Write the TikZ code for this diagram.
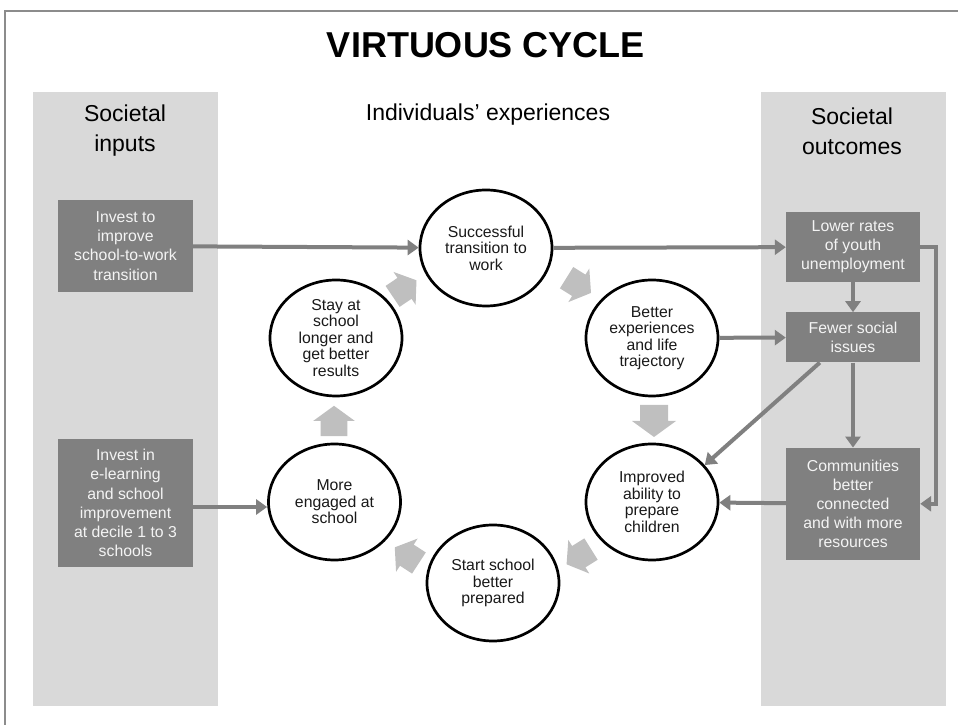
\documentclass[tikz,border=0pt]{standalone}
\usepackage{fontspec}
\setmainfont{Liberation Sans}
\usetikzlibrary{calc}
\usetikzlibrary{positioning}
\usetikzlibrary{shapes.geometric}
\usetikzlibrary{arrows.meta}
\definecolor{panelgray}{HTML}{D9D9D9}
\definecolor{boxgray}{HTML}{808080}
\definecolor{cyclegray}{HTML}{BFBFBF}
\definecolor{framegray}{HTML}{8C8C8C}
\definecolor{boxtext}{HTML}{F4F4F4}

\begin{document}
\begin{tikzpicture}[x=1pt, y=1pt,
	stage/.style={draw, ellipse, line width=2.7pt, minimum width=132pt, minimum height=116pt, inner sep=0pt, align=center, font=\fontsize{15.8}{16.5}\selectfont, text=black!90},
	invest/.style={fill=boxgray, text=boxtext, minimum width=135pt, inner sep=0pt, align=center, font=\fontsize{15.8}{19.2}\selectfont},
	outcome/.style={invest, minimum width=134pt},
	heading/.style={align=center, font=\fontsize{23}{30}\selectfont},
	link/.style={draw=boxgray, line width=4pt, -{Triangle[length=11pt, width=15pt]}}]
	\useasboundingbox (0,0) rectangle (958,725);
	\draw[framegray, line width=2.5pt] (5,0) -- (5,714) -- (958,714);
	\fill[panelgray] (33,19) rectangle (218,633);
	\fill[panelgray] (761,19) rectangle (946,633);
	\node[font=\fontsize{36}{40}\selectfont\bfseries] (title) at (486,680) {VIRTUOUS CYCLE};
	\node[heading] (inputs) at (125,594) {Societal\\inputs};
	\node[heading] (outputs) at (852,594) {Societal\\outcomes};
	\node[heading] (indiv) at (488,610) {Individuals’ experiences};
	\node[invest, minimum height=92pt] (invest1) at (125.5,479) {Invest to\\improve\\school-to-work\\transition};
	\node[invest, minimum height=128pt] (invest2) at (125.5,222) {Invest in\\e-learning\\and school\\improvement\\at decile 1 to 3\\schools};
	\node[stage] (success) at (486,477) {Successful\\transition to\\work};
	\node[stage] (better) at (652,387) {Better\\experiences\\and life\\trajectory};
	\node[stage] (improved) at (652,223) {Improved\\ability to\\prepare\\children};
	\node[stage] (start) at (493,142) {Start school\\better\\prepared};
	\node[stage] (engaged) at (334.5,223) {More\\engaged at\\school};
	\node[stage] (stay) at (336,387) {Stay at\\school\\longer and\\get better\\results};
	\node[outcome, minimum height=70pt] (lower) at (853,478) {Lower rates\\of youth\\unemployment};
	\node[outcome, minimum height=50pt, below=30pt of lower] (fewer) {Fewer social\\issues};
	\node[outcome, minimum height=112pt, below=85pt of fewer] (comm) {Communities\\better\\connected\\and with more\\resources};
	\coordinate (hub) at (494,304);
	\foreach \ang/\sc in {0/1, 58/0.9, 124/0.9, 180/0.95, 237/0.9, 302/0.9}
		\fill[cyclegray, shift={($(hub)+(\ang:160)$)}, rotate=\ang-90, scale=\sc] (-16,-14) -- (0,-14) -- (0,-22) -- (16,0) -- (0,22) -- (0,14) -- (-16,14) -- cycle;
	\draw[link] (invest1) -- (success);
	\draw[link] (invest2.east) ++(0,-4) coordinate (in2) -- (in2 -| engaged.west);
	\draw[link] (success) -- (lower);
	\draw[link] (better) -- (fewer);
	\draw[link] (lower) -- (fewer);
	\draw[link] (fewer) -- (comm);
	\draw[link] (comm) -- (improved);
	\draw[link] ([xshift=34pt]fewer.south west) -- (improved.35);
	\draw[link] (lower.east) -- ++(16,0) |- (comm.east);
\end{tikzpicture}
\end{document}
